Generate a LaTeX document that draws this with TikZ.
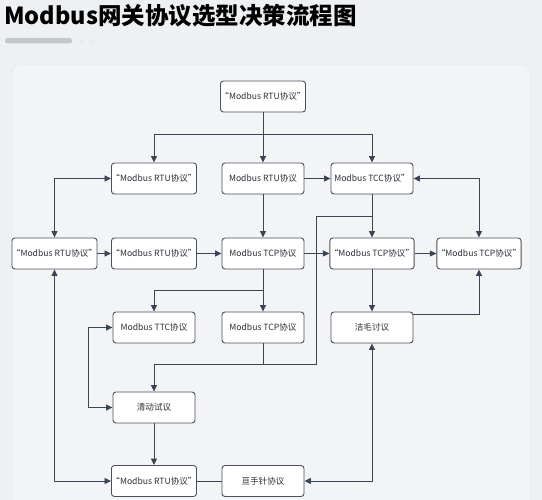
\documentclass[tikz,border=0pt]{standalone}
\usepackage{fontspec}
\setmainfont{Noto Sans CJK SC}
\usetikzlibrary{arrows.meta}
\definecolor{bg}{HTML}{EEF1F3}
\definecolor{panel}{HTML}{F2F4F6}
\definecolor{panelline}{HTML}{E6E9EC}
\definecolor{boxline}{HTML}{4A505C}
\definecolor{arrline}{HTML}{3C4555}
\definecolor{txt}{HTML}{2A2E36}
\tikzset{
  box/.style={draw=boxline, fill=white, rounded corners=3pt, line width=0.9pt,
    minimum width=82pt, minimum height=31pt, inner sep=0pt,
    font=\fontsize{8.6}{10}\selectfont, text=txt},
  conn/.style={draw=arrline, line width=0.9pt},
  arr/.style={conn, -{Triangle[length=6.5pt,width=6pt]}},
  darr/.style={conn, {Triangle[length=6.5pt,width=6pt]}-{Triangle[length=6.5pt,width=6pt]}},
}
\begin{document}
\begin{tikzpicture}[x=1pt,y=-1pt]
\useasboundingbox (0,0) rectangle (542,500);
\fill[bg] (0,0) rectangle (542,500);
\draw[panelline, fill=panel, rounded corners=8pt] (12,65) rectangle (530,510);
% title
\node[anchor=west, inner sep=0pt, font=\fontsize{23.5}{26}\selectfont\bfseries, text=black] (title) at (4,15.5) {Modbus网关协议选型决策流程图};
\fill[black!22, rounded corners=2.5pt] (5,38) rectangle (72,43.5);
\fill[black!8] (82,40.7) circle (2.6);
\fill[black!8] (91,40.7) circle (2.6);
% nodes
\node[box] (top) at (263,96.5) {“Modbus RTU协议”};
\node[box] (A) at (154,178.5) {“Modbus RTU协议”};
\node[box] (B) at (263,178.5) {Modbus RTU协议};
\node[box] (C) at (372,178.5) {Modbus TCC协议”};
\node[box] (Ra) at (54.5,253.5) {“Modbus RTU协议”};
\node[box] (Rb) at (154,253.5) {“Modbus RTU协议”};
\node[box] (Rc) at (263,253.5) {Modbus TCP协议};
\node[box] (Rd) at (372,253.5) {“Modbus TCP协议”};
\node[box] (Re) at (479,253.5) {“Modbus TCP协议”};
\node[box] (Fa) at (154,327.5) {Modbus TTC协议};
\node[box] (Fb) at (263,327.5) {Modbus TCP协议};
\node[box] (Fc) at (372,327.5) {洁毛讨议};
\node[box] (G) at (154,407.5) {清动试议};
\node[box] (Ha) at (154,481) {“Modbus RTU协议”};
\node[box] (Hb) at (263,481) {亘手针协议};
% junctions
\coordinate (j1) at (263,134);
\coordinate (j2) at (372,216);
\coordinate (k1) at (316,364);
\coordinate (j3) at (263,290);
\coordinate (k2) at (88,327.5);
% connectors
\draw[arr] (top.south) -- (B.north);
\draw[arr] (j1) -| (A.north);
\draw[arr] (j1) -| (C.north);
\draw[arr] (B.east) -- (C.west);
\draw[darr] (A.west) -| (Ra.north);
\draw[darr] (C.east) -| (Re.north);
\draw[arr] (C.south) -- (Rd.north);
\draw[arr] (B.south) -- (Rc.north);
\draw[arr] (j2) -| (k1) -| (G.north);
\draw[conn] (Fb.south) -- (Fb.south |- k1);
\draw[arr] (Ra.east) -- (Rb.west);
\draw[arr] (Rb.east) -- (Rc.west);
\draw[arr] (Rc.east) -- (Rd.west);
\draw[arr] (Rd.east) -- (Re.west);
\draw[arr] (Rc.south) -- (Fb.north);
\draw[arr] (j3) -| (Fa.north);
\draw[arr] (Rd.south) -- (Fc.north);
\draw[arr] ([yshift=-3pt]Fc.north east) -| (Re.south);
\draw[darr] (Ra.south) |- (Ha.west);
\draw[darr] (Fa.west) -- (k2) |- (G.west);
\draw[arr] (G.south) -- (Ha.north);
\draw[conn] (Ha.east) -- (Hb.west);
\draw[darr] (Hb.east) -| (Fc.south);
\end{tikzpicture}
\end{document}
